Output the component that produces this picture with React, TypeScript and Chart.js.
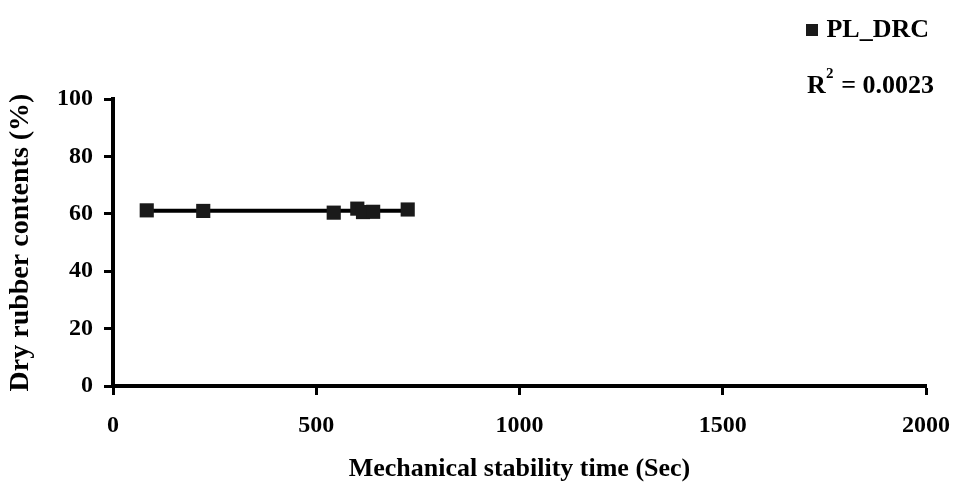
import React, { useEffect, useRef } from "react";
import { Chart, registerables } from "chart.js";

Chart.register(...registerables);

const stabilityTime = [83, 222, 543, 601, 615, 640, 725];
const drcValues = [61.2, 61.0, 60.4, 61.8, 60.6, 60.7, 61.5];
const seriesName = "PL_DRC";
const rSquaredText = "= 0.0023";
const xTicks = [0, 500, 1000, 1500, 2000];
const yTicks = [0, 20, 40, 60, 80, 100];

const FONT = "'Liberation Serif', 'Times New Roman', serif";

function linearFit(xs: number[], ys: number[]) {
  const n = xs.length;
  const mx = xs.reduce((a, b) => a + b, 0) / n;
  const my = ys.reduce((a, b) => a + b, 0) / n;
  let sxy = 0, sxx = 0;
  for (let i = 0; i < n; i++) {
    sxy += (xs[i] - mx) * (ys[i] - my);
    sxx += (xs[i] - mx) ** 2;
  }
  const slope = sxy / sxx;
  return { slope, intercept: my - slope * mx };
}

export default function App() {
  const ref = useRef<HTMLCanvasElement>(null);
  useEffect(() => {
    if (!ref.current) return;
    const fit = linearFit(stabilityTime, drcValues);
    const xmin = Math.min(...stabilityTime);
    const xmax = Math.max(...stabilityTime);
    const legendPlugin = {
      id: "legendText",
      afterDraw(chart: any) {
        const ctx = chart.ctx;
        ctx.save();
        ctx.fillStyle = "#1a1a1a";
        ctx.fillRect(806, 24, 12, 12);
        ctx.fillStyle = "#000";
        ctx.font = `bold 26px ${FONT}`;
        ctx.textBaseline = "alphabetic";
        ctx.textAlign = "right";
        ctx.fillText(seriesName, 929, 37);
        ctx.fillText(rSquaredText, 934, 93);
        ctx.textAlign = "left";
        ctx.fillText("R", 807, 93);
        ctx.font = `bold 15px ${FONT}`;
        ctx.fillText("2", 826, 78);
        ctx.restore();
      },
    };
    const tickFont = { family: FONT, size: 24, weight: "bold" as const };
    const chart = new Chart(ref.current, {
      type: "scatter",
      data: {
        datasets: [
          {
            label: seriesName,
            data: stabilityTime.map((x, i) => ({ x, y: drcValues[i] })),
            pointStyle: "rect",
            pointRadius: 10,
            pointHoverRadius: 10,
            backgroundColor: "#1a1a1a",
            borderColor: "#1a1a1a",
            borderWidth: 0,
            showLine: false,
            order: 0,
          },
          {
            type: "line",
            label: "trend",
            data: [
              { x: xmin, y: fit.intercept + fit.slope * xmin },
              { x: xmax, y: fit.intercept + fit.slope * xmax },
            ],
            borderColor: "#000",
            borderWidth: 4,
            pointRadius: 0,
            fill: false,
            order: 1,
          },
        ],
      },
      options: {
        animation: false,
        responsive: false,
        maintainAspectRatio: false,
        layout: { padding: { top: 99, right: 31, left: 0, bottom: 0 } },
        plugins: { legend: { display: false }, tooltip: { enabled: false } },
        scales: {
          x: {
            type: "linear",
            min: 0,
            max: 2000,
            afterBuildTicks: (s: any) => { s.ticks = xTicks.map((v) => ({ value: v })); },
            afterFit: (s: any) => { s.height = 102; s.paddingLeft = 0; s.paddingRight = 0; },
            grid: { display: true, drawOnChartArea: false, drawTicks: true, tickLength: 9, tickWidth: 3, tickColor: "#000" },
            border: { display: true, width: 4, color: "#000" },
            ticks: { color: "#000", padding: 16, font: tickFont, maxRotation: 0, callback: (v: any) => String(v) },
            title: { display: true, text: "Mechanical stability time (Sec)", color: "#000", font: { family: FONT, size: 26, weight: "bold" }, padding: { top: 4, bottom: 3 } },
          },
          y: {
            type: "linear",
            min: 0,
            max: 100,
            afterBuildTicks: (s: any) => { s.ticks = yTicks.map((v) => ({ value: v })); },
            afterFit: (s: any) => { s.width = 113; s.paddingTop = 0; s.paddingBottom = 0; },
            grid: { display: true, drawOnChartArea: false, drawTicks: true, tickLength: 9, tickWidth: 3, tickColor: "#000" },
            border: { display: true, width: 4, color: "#000" },
            ticks: { color: "#000", padding: 11, font: tickFont, callback: (v: any) => String(v) },
            title: { display: true, text: "Dry rubber contents (%)", color: "#000", font: { family: FONT, size: 28, weight: "bold" }, padding: { top: 4, bottom: 4 } },
          },
        },
      },
      plugins: [legendPlugin],
    });
    return () => chart.destroy();
  }, []);
  return (
    <div style={{ position: "fixed", left: 0, top: 0, width: 957, height: 488, background: "#fff" }}>
      <canvas ref={ref} width={957} height={488} style={{ width: 957, height: 488, display: "block" }} />
    </div>
  );
}
